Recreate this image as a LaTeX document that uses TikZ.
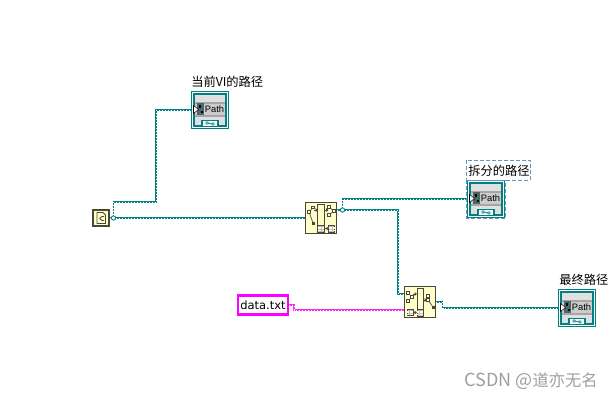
\documentclass[tikz,border=0pt]{standalone}
\usepackage{fontspec}
\setmainfont{Noto Sans CJK SC}
\newfontfamily\latinf{DejaVu Sans}
\newfontfamily\pathf{Liberation Sans}
\usetikzlibrary{calc}
\definecolor{lvteal}{RGB}{0,128,128}
\definecolor{lvpink}{RGB}{255,0,255}
\definecolor{lvyellow}{RGB}{255,255,204}
\definecolor{lvdark}{RGB}{74,72,52}
\definecolor{lvblue}{RGB}{70,130,180}
\definecolor{lvgrey}{RGB}{224,224,224}
\tikzset{
  x=0.75pt,y=-0.75pt,
  wire/.style={draw=lvteal,line width=1.35pt,
    postaction={draw=white,line width=0.5pt,dash pattern=on 0.75pt off 1.5pt}},
  pinkwire/.style={draw=lvpink!85,line width=1.2pt,
    postaction={draw=white,line width=0.3pt,dash pattern=on 0.75pt off 1.5pt}},
  indbox/.style={draw=lvteal,line width=0.9pt,fill=white,minimum width=28pt,minimum height=27.5pt,inner sep=0pt},
  buildbox/.style={draw=lvdark,line width=0.9pt,fill=lvyellow,minimum size=23.5pt,inner sep=0pt},
  constbox/.style={draw=lvdark,line width=1.6pt,fill=lvyellow,minimum size=12pt,inner sep=0pt},
  strbox/.style={draw=lvpink,line width=1.7pt,fill=white,minimum width=38pt,minimum height=14.2pt,inner sep=0pt,font=\latinf\fontsize{8.6}{12}\selectfont},
  lab/.style={inner sep=0pt,font=\fontsize{9.2}{11}\selectfont,anchor=west},
  junction/.style={circle,draw=lvteal,line width=0.7pt,fill=white,minimum size=3.2pt,inner sep=0pt},
  ink/.style={draw=lvdark,line width=0.5pt},
  selbox/.style={draw=lvblue!85,line width=0.7pt,dash pattern=on 3pt off 1.5pt},
}
\newcommand{\indicatordetail}[1]{%
  \begin{scope}[shift={(#1.center)}]
    \fill[lvgrey] (-16,-16) rectangle (16,16);
    \fill[gray!70] (-16,-8) rectangle (16,6.5);
    \fill[gray!40] (-16,-6.5) rectangle (16,5);
    \draw[lvteal,line width=0.9pt] (-16,-16) rectangle (16,16);
    \fill[teal!30!black!70] (-13.3,-6.7) rectangle (-6,5);
    \fill[black] (-11.5,-5) rectangle (-9,-2.5);
    \fill[black] (-9,1) rectangle (-6.7,3.3);
    \draw[black,fill=white,line width=0.4pt] (-16.5,-4.5) -- (-11.5,-0.5) -- (-16.5,3.5) -- cycle;
    \node[inner sep=0pt,font=\pathf\fontsize{7}{8}\selectfont,text=black] at (4.5,-0.6) {Path};
    \draw[lvteal,line width=0.9pt,fill=white] (-8,16) -- (-8,10.7) -- (8,10.7) -- (8,16);
    \draw[lvteal,line width=0.6pt] (-4,12) rectangle (-2,14) (2,13) rectangle (4,15) (-2,13) -- (2,14);
  \end{scope}}
\newcommand{\cnode}[2]{\draw[ink,fill=white] (#1-1.3,#2-1.3) rectangle (#1+1.3,#2+1.3);}
\newcommand{\fnode}[2]{\fill[lvdark] (#1-1.5,#2-1.5) rectangle (#1+1.5,#2+1.5);}
\newcommand{\chk}[4]{%
  \draw[ink,fill=lvdark!35] (#1,#2) rectangle (#3,#4);
  \draw[white,line width=0.35pt,dash pattern=on 0.5pt off 0.5pt] (#1,#2+1.5) -- (#3,#2+1.5) (#1,#2+3) -- (#3,#2+3) (#1,#2+4.5) -- (#3,#2+4.5);}
\newcommand{\arrowr}[3]{\draw[ink] (#1,#3) -- (#2,#3); \fill[lvdark] (#2+1,#3) -- (#2-1.5,#3-2) -- (#2-1.5,#3+2) -- cycle;}
\begin{document}
\begin{tikzpicture}
\useasboundingbox (0,0) rectangle (613,400);
\node[constbox] (const) at (101,218) {};
\node[buildbox] (b1) at (321,218) {};
\node[buildbox] (b2) at (420,302) {};
\node[strbox] (str) at (263,305) {data.txt};
\node[indbox] (i1) at (210,110) {};
\node[indbox] (i2) at (486,199) {};
\node[indbox] (i3) at (577,308) {};
\coordinate (j1) at (113.5,218);
\coordinate (j2) at (342.5,210);
\coordinate (b1out) at (337,210);
\coordinate (b2a) at (404,294);
\coordinate (b2b) at (404,310);
\draw[wire] (const.east) -- (b1.west);
\draw[wire] (j1) |- (156,202) |- (i1.west);
\draw[wire] (b1out) -- (j2) |- (i2.west);
\draw[wire] (j2) -- (398,210) |- (b2a);
\draw[wire] (b2.east) -- (442.5,302) |- (i3.west);
\draw[pinkwire] (str.east) -- (294,305) |- (b2b);
\node[junction] at (j1) {};
\node[junction] at (j2) {};
\begin{scope}[shift={(const.center)}]
  \draw[ink,line width=0.6pt] (-4,-5.5) -- (2,-5.5) -- (4.5,-3) -- (4.5,5.5) -- (-4,5.5) -- cycle;
  \draw[ink,line width=0.6pt] (-1.5,0.5) -- (1,-1.5) -- (3,-1.5) (-1.5,0.5) -- (1,2.5) -- (3,2.5);
\end{scope}
\begin{scope}[shift={(b1.center)}]
  \draw[ink] (-12,-6) -- (-8,-10.5) (-12,-6) -- (-8,5);
  \cnode{-12}{-6}\cnode{-8}{-10.5}\fnode{-8}{5}
  \arrowr{-7}{-4}{-8}
  \draw[ink,fill=lvyellow] (-3.5,-14) rectangle (3,14);
  \chk{-3.5}{7.5}{3}{14}
  \arrowr{3.5}{6.5}{-8}
  \draw[ink] (8,-11) -- (13,-7) -- (8,-3);
  \cnode{8}{-11}\cnode{13}{-7}\cnode{8}{-3}
  \arrowr{3}{7}{10.5}
  \chk{7.5}{7.5}{13.5}{14}
\end{scope}
\begin{scope}[shift={(b2.center)}]
  \draw[ink] (-12,-9) -- (-8,-5) -- (-12,-1);
  \cnode{-12}{-9}\cnode{-8}{-5}\cnode{-12}{-1}
  \arrowr{-7}{-4}{-8}
  \chk{-13}{7.5}{-7}{13.5}
  \arrowr{-7}{-4}{10.5}
  \draw[ink,fill=lvyellow] (-3,-13.5) rectangle (3,14);
  \chk{-3}{7.5}{3}{14}
  \arrowr{3}{6}{-2}
  \draw[ink] (8,-6) -- (8,-2) -- (13,5);
  \cnode{8}{-6}\cnode{8}{-2}\fnode{13}{5}
\end{scope}
\indicatordetail{i1}
\indicatordetail{i2}
\indicatordetail{i3}
\draw[selbox,fill=white] (466,160) rectangle (530,180);
\draw[selbox] (466.5,180) rectangle (505.5,218);
\node[lab] (l1) at (191,82) {当前VI的路径};
\node[lab] (l2) at (468,171) {拆分的路径};
\node[lab] (l3) at (559,280) {最终路径};
\node[inner sep=0pt,anchor=east,text=gray!75,font=\fontsize{12.2}{14}\selectfont] (wm) at (598,381) {{\fontsize{13.5}{14}\selectfont CSDN @}道亦无名};
\end{tikzpicture}
\end{document}
